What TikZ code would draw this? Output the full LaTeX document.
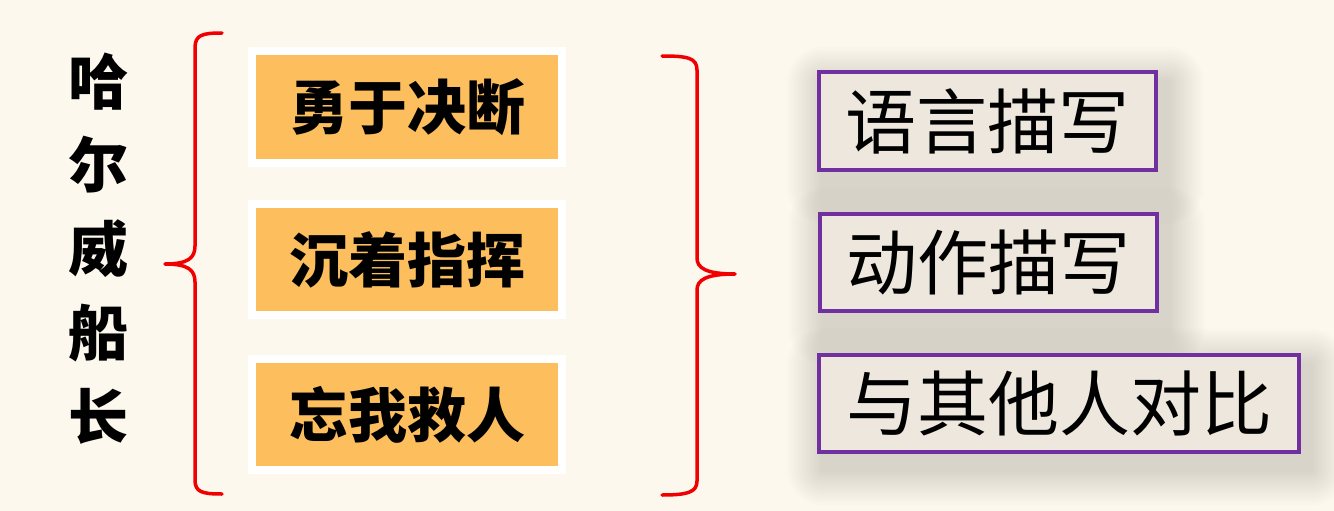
\documentclass[tikz,border=0pt]{standalone}
\usepackage{fontspec}
\newfontfamily\cjk{Noto Sans CJK SC}
\newfontfamily\cjkblack{Noto Sans CJK SC Black}
\usetikzlibrary{shadows,calc}
\definecolor{bg}{HTML}{FDF8EE}
\definecolor{gold}{HTML}{FDBE5D}
\definecolor{vio}{HTML}{7030A0}
\definecolor{boxfill}{HTML}{EDE7DD}
\definecolor{bracered}{HTML}{F00000}
\pgfdeclarelayer{bgfill}
\pgfdeclarelayer{background}
\pgfsetlayers{bgfill,background,main}
\newcommand\mshadow[1]{%
  \begin{pgfonlayer}{background}
  \foreach \r in {2,4,...,36}
    \fill[black!70!brown,opacity=0.007,rounded corners=\r pt]
      ($(#1.north west)+(6-\r,12-\r)$) rectangle ($(#1.south east)+(10+\r,16+\r)$);
  \end{pgfonlayer}}
\begin{document}
\begin{tikzpicture}[x=1pt,y=-1pt,
  trait/.style={draw=white, line width=8pt, fill=gold, minimum width=310pt, minimum height=111pt, inner sep=0pt,
    font=\cjkblack\fontsize{59}{59}\selectfont,
    drop shadow={shadow xshift=1pt, shadow yshift=-3pt, opacity=0.3}},
  method/.style={draw=vio, line width=4pt, fill=boxfill, minimum height=97pt, inner sep=0pt,
    font=\cjk\fontsize{71}{71}\selectfont},
  namechar/.style={font=\cjk\bfseries\fontsize{60}{60}\selectfont, inner sep=0pt},
  brace/.style={draw=bracered, line width=3.5pt, line cap=round, line join=round}]
\useasboundingbox (0,0) rectangle (1334,511);
\begin{pgfonlayer}{bgfill}
\fill[bg] (0,0) rectangle (1334,511);
\end{pgfonlayer}

% vertical name
\node[namechar] (n1) at (98,82) {哈};
\node[namechar] (n2) at (98,165) {尔};
\node[namechar] (n3) at (98,249) {威};
\node[namechar] (n4) at (98,333) {船};
\node[namechar] (n5) at (98,416) {长};

% left brace
\draw[brace] (222,33) .. controls (202,33) and (195,35) .. (195,48) -- (195,246)
  .. controls (195,258) and (188,264) .. (165,264)
  .. controls (188,264) and (195,270) .. (195,282) -- (195,480)
  .. controls (195,492) and (202,494) .. (222,494);

% traits
\node[trait] (t1) at (407,107) {勇于决断};
\node[trait] (t2) at (407,259.5) {沉着指挥};
\node[trait] (t3) at (407,414.5) {忘我救人};

% right brace
\draw[brace] (662,56) .. controls (688,56) and (697,58) .. (697,70) -- (697,258)
  .. controls (697,268) and (706,274) .. (735,274)
  .. controls (706,274) and (697,280) .. (697,290) -- (697,481)
  .. controls (697,492) and (688,495) .. (662,495);

% methods
\node[method, minimum width=337pt] (m1) at (987.5,121) {语言描写};
\node[method, minimum width=337pt] (m2) at (988.5,262) {动作描写};
\node[method, minimum width=480pt] (m3) at (1059,403) {与其他人对比};
\mshadow{m1}
\mshadow{m2}
\mshadow{m3}
\end{tikzpicture}
\end{document}
